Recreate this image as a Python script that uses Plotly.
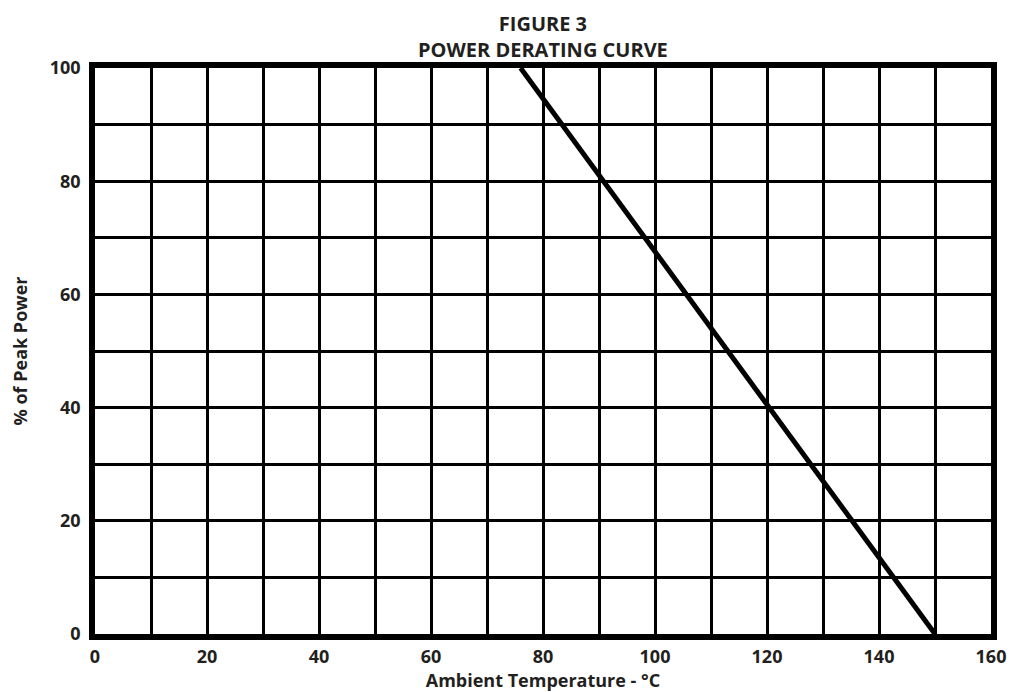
import plotly.graph_objects as go

# Data
temperature_c = [76, 150]
peak_power_pct = [100, 0]
x_tick_vals = [0, 20, 40, 60, 80, 100, 120, 140, 160]
y_tick_vals = [0, 20, 40, 60, 80, 100]
title_lines = ["FIGURE 3", "POWER DERATING CURVE"]

FONT = "Open Sans"
TXT = "#231f20"

# page has an 8px body margin
W, H = 1010, 684
L, R, T, B = 87, 27, 60, 58
plot_h = H - T - B

fig = go.Figure()
fig.add_trace(go.Scatter(
    x=temperature_c, y=peak_power_pct, mode="lines",
    line=dict(color="black", width=5), showlegend=False, hoverinfo="skip"))

fig.update_layout(
    width=W, height=H,
    margin=dict(l=L, r=R, t=T, b=B, autoexpand=False),
    paper_bgcolor="white", plot_bgcolor="white",
    font=dict(family=FONT, color=TXT),
)

fig.add_annotation(
    text="<b>" + "<br>".join(title_lines) + "</b>", xref="paper", yref="paper",
    x=0.5, y=1 + (T - 28) / plot_h, xanchor="center", yanchor="middle",
    showarrow=False, font=dict(family=FONT, size=20, color=TXT))

fig.update_xaxes(
    range=[0, 160], tickvals=x_tick_vals,
    ticktext=[f"<b>{v}</b>" for v in x_tick_vals],
    tickfont=dict(family=FONT, size=18, color=TXT),
    showgrid=True, gridcolor="black", gridwidth=2.5,
    minor=dict(dtick=10, tick0=0, showgrid=True, gridcolor="black", gridwidth=2.5),
    showline=True, linecolor="black", linewidth=5.5, mirror=True,
    zeroline=False, ticks="", ticklabelstandoff=2,
    title=dict(text="<b>Ambient Temperature - °C</b>",
               font=dict(family=FONT, size=18, color=TXT), standoff=1),
)
fig.update_yaxes(
    range=[0, 100], tickvals=y_tick_vals,
    ticktext=[f"<b>{v}</b>" for v in y_tick_vals],
    tickfont=dict(family=FONT, size=18, color=TXT),
    showgrid=True, gridcolor="black", gridwidth=2.5,
    minor=dict(dtick=10, tick0=0, showgrid=True, gridcolor="black", gridwidth=2.5),
    showline=True, linecolor="black", linewidth=5.5, mirror=True,
    zeroline=False, ticks="", ticklabelstandoff=5,
    title=dict(text="<b>% of Peak Power</b>",
               font=dict(family=FONT, size=18, color=TXT), standoff=23),
)

fig.write_html("out.html")
